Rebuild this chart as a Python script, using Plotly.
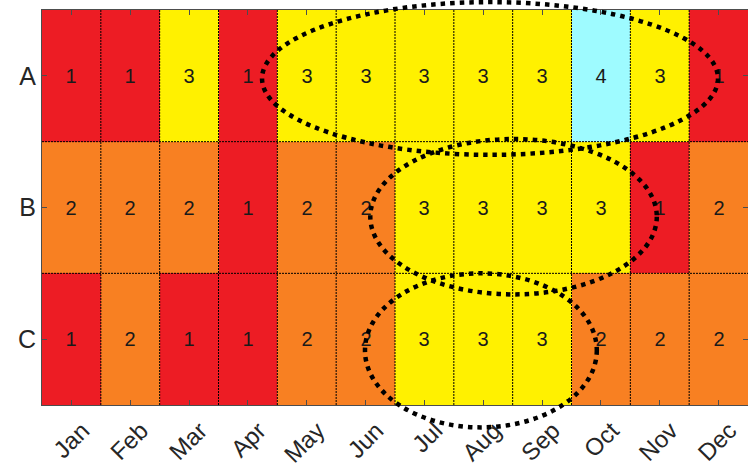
import plotly.graph_objects as go

# Monthly level per site (1-4)
months = ["Jan", "Feb", "Mar", "Apr", "May", "Jun",
          "Jul", "Aug", "Sep", "Oct", "Nov", "Dec"]
sites = ["A", "B", "C"]
level_a = [1, 1, 3, 1, 3, 3, 3, 3, 3, 4, 3, 1]
level_b = [2, 2, 2, 1, 2, 2, 3, 3, 3, 3, 1, 2]
level_c = [1, 2, 1, 1, 2, 2, 3, 3, 3, 2, 2, 2]
levels = [level_a, level_b, level_c]

# Colour for each level 1..4
level_colors = ["#ED1C24", "#F88022", "#FFF100", "#9EFBFF"]

# Highlighted periods, as (x0, x1, y0, y1) in axis units
highlights = [
    (3.24, 10.99, -0.56, 0.60),
    (5.08, 9.95, 0.48, 1.66),
    (4.99, 8.93, 1.50, 2.67),
]

n = len(level_colors)
scale = []
for i, c in enumerate(level_colors):
    scale.append([i / n, c])
    scale.append([(i + 1) / n, c])

x_idx = list(range(len(months)))
y_idx = list(range(len(sites)))
x_range = [-0.5, len(months) - 0.5]
y_range = [len(sites) - 0.5, -0.5]

fig = go.Figure(go.Heatmap(
    z=levels, x=x_idx, y=y_idx,
    colorscale=scale, zmin=0.5, zmax=n + 0.5,
    showscale=False,
    texttemplate="%{z}",
    textfont=dict(size=20, color="#1a1a1a", family="Arial, Liberation Sans"),
    hoverinfo="skip",
))

# Dotted cell borders
for i in range(len(months) - 1):
    fig.add_shape(type="line", xref="x", yref="y domain",
                  x0=i + 0.5, x1=i + 0.5, y0=0, y1=1,
                  line=dict(color="black", width=1, dash="2px,1px"), layer="above")
for j in range(len(sites) - 1):
    fig.add_shape(type="line", xref="x domain", yref="y",
                  x0=0, x1=1, y0=j + 0.5, y1=j + 0.5,
                  line=dict(color="black", width=1, dash="2px,1px"), layer="above")

# Highlight ellipses (domain refs so they may run past the plot edge)
def to_xdom(v):
    return (v - x_range[0]) / (x_range[1] - x_range[0])

def to_ydom(v):
    return (v - y_range[0]) / (y_range[1] - y_range[0])

for x0, x1, y0, y1 in highlights:
    fig.add_shape(type="circle", xref="x domain", yref="y domain",
                  x0=to_xdom(x0), x1=to_xdom(x1),
                  y0=to_ydom(y1), y1=to_ydom(y0),
                  line=dict(color="black", width=4.5, dash="4.5px,5px"),
                  layer="above")

axis_color = "#4d4d4d"
fig.update_layout(
    width=748, height=467,
    margin=dict(l=42, r=0, t=10, b=62),
    paper_bgcolor="white", plot_bgcolor="white",
    font=dict(family="Arial, Liberation Sans", color="#262626"),
    xaxis=dict(
        range=x_range, tickmode="array", tickvals=x_idx, ticktext=months,
        tickangle=-45, tickfont=dict(size=24, color="#262626"),
        ticks="inside", ticklen=5, tickcolor=axis_color, tickwidth=1,
        showline=True, linecolor=axis_color, linewidth=1, mirror="ticks",
        showgrid=False, zeroline=False, automargin=False,
        ticklabelshift=11, ticklabelstandoff=1,
    ),
    yaxis=dict(
        range=y_range, tickmode="array", tickvals=y_idx, ticktext=sites,
        tickfont=dict(size=25, color="#262626"),
        ticks="inside", ticklen=5, tickcolor=axis_color, tickwidth=1,
        showline=True, linecolor=axis_color, linewidth=1, mirror="ticks",
        showgrid=False, zeroline=False, automargin=False,
    ),
)

fig.write_html("out.html")
